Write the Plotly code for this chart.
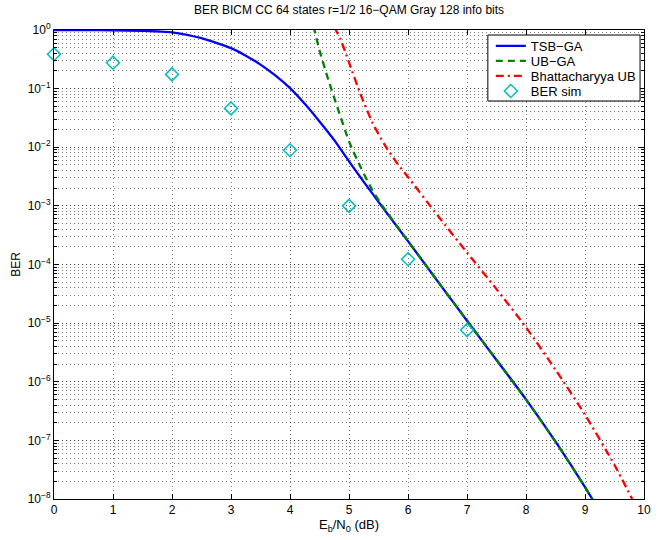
import plotly.graph_objects as go

# ---- data ----
tsb_x = [0, 0.5, 1, 1.5, 2, 2.5, 2.75, 3, 3.25, 3.5, 3.75, 4, 4.25, 4.5, 4.75, 5, 5.25, 5.5,
         6, 6.5, 7, 7.5, 8, 8.5, 9, 9.15]
tsb_y = [0.998, 0.996, 0.99, 0.966, 0.91, 0.724, 0.603, 0.49, 0.365, 0.257, 0.168, 0.102,
         0.055, 0.0275, 0.0132, 5.75e-3, 2.57e-3, 1.17e-3,
         2.5e-4, 5.2e-5, 1.1e-5, 2.35e-6, 5.0e-7, 9.5e-8, 1.6e-8, 9.0e-9]

ub_x = [4.40, 4.5, 4.65, 4.82, 5.0, 5.2, 5.4, 5.6, 6, 6.5, 7, 7.5, 8, 8.5, 9, 9.15]
ub_y = [1.15, 0.45, 0.141, 0.0427, 0.0126, 4.5e-3, 1.82e-3, 8.9e-4, 2.52e-4, 5.25e-5,
        1.11e-5, 2.37e-6, 5.0e-7, 9.5e-8, 1.6e-8, 9.0e-9]

bh_x = [4.75, 4.85, 5.0, 5.2, 5.4, 5.6, 5.8, 6.0, 6.5, 7.0, 7.5, 8.0, 8.5, 9.0, 9.5, 9.8]
bh_y = [1.12, 0.72, 0.28, 0.078, 0.026, 0.0112, 5.6e-3, 3.1e-3, 6.9e-4, 1.6e-4, 3.8e-5,
        8.5e-6, 1.6e-6, 2.75e-7, 3.8e-8, 1.0e-8]

sim_x = [0, 1, 2, 3, 4, 5, 6, 7]
sim_y = [0.385, 0.277, 0.175, 0.046, 0.0089, 1.0e-3, 1.23e-4, 7.6e-6]

series_names = ["TSB\u2212GA", "UB\u2212GA", "Bhattacharyya UB", "BER sim"]
y_exps = [0, -1, -2, -3, -4, -5, -6, -7, -8]
x_ticks = [0, 1, 2, 3, 4, 5, 6, 7, 8, 9, 10]

FONT = "Liberation Sans, Arial, Helvetica, sans-serif"

# layout geometry (pixels)
W, H = 661, 540
ML, MR, MT, MB = 54, 10, 30, 41
PW, PH = W - ML - MR, H - MT - MB


def px_x(p):
    return (p - ML) / PW


def px_y(p):
    return 1 - (p - MT) / PH


fig = go.Figure()
fig.add_trace(go.Scatter(x=tsb_x, y=tsb_y, mode="lines", name=series_names[0], legend="legend",
                         line=dict(color="rgb(0,0,255)", width=2.3, shape="spline", smoothing=0.6)))
fig.add_trace(go.Scatter(x=ub_x, y=ub_y, mode="lines", name=series_names[1], legend="legend2",
                         line=dict(color="rgb(0,128,0)", width=2.3, dash="7px,5px",
                                   shape="spline", smoothing=0.6)))
fig.add_trace(go.Scatter(x=bh_x, y=bh_y, mode="lines", name=series_names[2], legend="legend3",
                         line=dict(color="rgb(255,0,0)", width=2.3, dash="8px,4px,2px,4px",
                                   shape="spline", smoothing=0.6)))
fig.add_trace(go.Scatter(x=sim_x, y=sim_y, mode="markers", name=series_names[3], legend="legend4",
                         cliponaxis=False,
                         marker=dict(symbol="diamond-open", size=10, color="rgb(0,191,191)",
                                     line=dict(width=1.5, color="rgb(0,191,191)"))))

leg_common = dict(xanchor="left", yanchor="middle", bgcolor="rgba(0,0,0,0)", borderwidth=0,
                  font=dict(size=13, family=FONT), itemwidth=30)
leg_x = px_x(496)
leg_rows = [46, 61, 76, 91]

grid_col = "rgba(0,0,0,0.5)"
fig.update_layout(
    width=W, height=H,
    margin=dict(l=ML, r=MR, t=MT, b=MB),
    paper_bgcolor="white", plot_bgcolor="white",
    font=dict(family=FONT, size=12, color="black"),
    title=dict(text="BER BICM CC 64 states r=1/2 16\u2212QAM Gray 128 info bits",
               x=0.5, xref="paper", y=1, yref="container", yanchor="top", pad=dict(t=6),
               font=dict(size=12)),
    showlegend=True,
    legend=dict(x=leg_x, y=px_y(leg_rows[0]), **leg_common),
    legend2=dict(x=leg_x, y=px_y(leg_rows[1]), **leg_common),
    legend3=dict(x=leg_x, y=px_y(leg_rows[2]), **leg_common),
    legend4=dict(x=leg_x, y=px_y(leg_rows[3]), **leg_common),
    shapes=[dict(type="rect", xref="paper", yref="paper", layer="above",
                 x0=px_x(493), x1=px_x(647), y0=px_y(101), y1=px_y(35),
                 fillcolor="white", line=dict(color="black", width=1))],
)
fig.update_xaxes(
    range=[0, 10], tickvals=x_ticks, ticktext=[str(v) for v in x_ticks],
    ticks="inside", ticklen=5, tickcolor="black", mirror="ticks",
    showline=True, linecolor="black", linewidth=1,
    showgrid=True, gridcolor=grid_col, griddash="1px,3px", gridwidth=1,
    zeroline=False, tickfont=dict(size=12),
    title=dict(text="E<sub>b</sub>/N<sub>0</sub> (dB)", standoff=3, font=dict(size=13)),
)
fig.update_yaxes(
    type="log", range=[-8, 0],
    tickvals=[10.0 ** e for e in y_exps],
    ticktext=["10<sup>%s</sup>" % (str(e).replace("-", "\u2212")) for e in y_exps],
    ticks="inside", ticklen=5, tickcolor="black", mirror="ticks",
    showline=True, linecolor="black", linewidth=1,
    showgrid=True, gridcolor=grid_col, griddash="1px,3px", gridwidth=1,
    zeroline=False, tickfont=dict(size=12),
    minor=dict(dtick="D1", ticks="inside", ticklen=3, tickcolor="black",
               showgrid=True, gridcolor=grid_col, griddash="1px,3px", gridwidth=1),
    title=dict(text="BER", standoff=4, font=dict(size=12)),
)

fig.write_html("out.html")
